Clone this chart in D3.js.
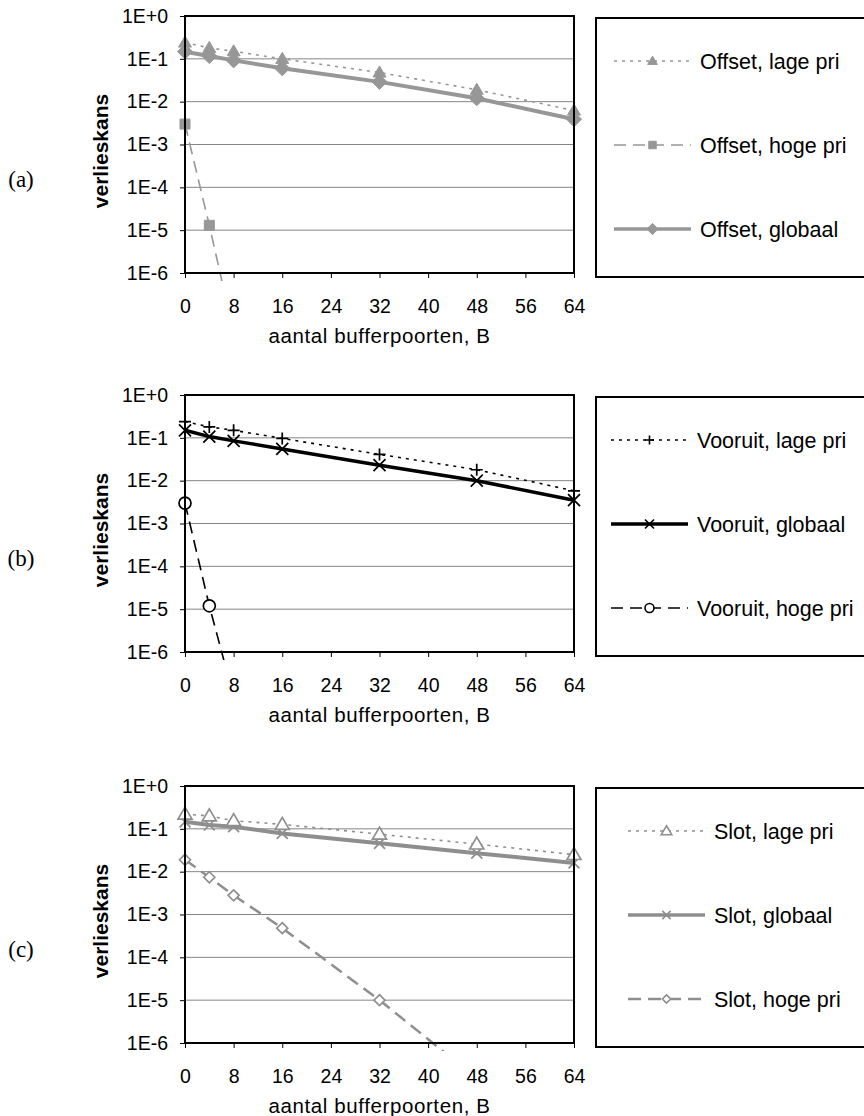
<!DOCTYPE html>
<html>
<head>
<meta charset="utf-8">
<script src="https://cdn.jsdelivr.net/npm/d3@7"></script>
<style>
  body { margin: 0; background: #fff; }
  svg { display: block; }
  text { font-family: 'Liberation Sans', Arial, sans-serif; }
</style>
</head>
<body>
<script>
// waarden (B = aantal bufferpoorten)
var B = [0, 4, 8, 16, 32, 48, 64];
var xTicks = [0, 8, 16, 24, 32, 40, 48, 56, 64];
var yTicks = [1, 1e-1, 1e-2, 1e-3, 1e-4, 1e-5, 1e-6];
var yTickLabels = ["1E+0", "1E-1", "1E-2", "1E-3", "1E-4", "1E-5", "1E-6"];
var panelLabels = ["(a)", "(b)", "(c)"];

var offsetLage    = [0.24, 0.18, 0.15, 0.10, 0.048, 0.019, 0.0062];
var offsetHoge    = [0.003, 1.3e-5, 4e-8, null, null, null, null];
var offsetGlobaal = [0.147, 0.116, 0.092, 0.060, 0.029, 0.012, 0.0039];

var vooruitLage    = [0.24, 0.18, 0.15, 0.097, 0.041, 0.018, 0.0058];
var vooruitGlobaal = [0.15, 0.107, 0.085, 0.055, 0.023, 0.010, 0.0035];
var vooruitHoge    = [0.003, 1.2e-5, 9e-8, null, null, null, null];

var slotLage    = [0.22, 0.20, 0.155, 0.127, 0.075, 0.044, 0.025];
var slotGlobaal = [0.146, 0.123, 0.112, 0.078, 0.046, 0.027, 0.016];
var slotHoge    = [0.019, 0.0074, 0.0028, 4.8e-4, 1.0e-5, 1.5e-7, null];

// markers (size = straal)
var markers = {
  triangle: { draw: function(c, r) { c.moveTo(0, -r); c.lineTo(r, r * 0.7); c.lineTo(-r, r * 0.7); c.closePath(); } },
  square:   { draw: function(c, r) { c.rect(-r, -r, 2 * r, 2 * r); } },
  diamond:  { draw: function(c, r) { c.moveTo(0, -r); c.lineTo(r, 0); c.lineTo(0, r); c.lineTo(-r, 0); c.closePath(); } },
  plus:     { draw: function(c, r) { c.moveTo(-r, 0); c.lineTo(r, 0); c.moveTo(0, -r); c.lineTo(0, r); } },
  cross:    { draw: function(c, r) { c.moveTo(-r, -r); c.lineTo(r, r); c.moveTo(-r, r); c.lineTo(r, -r); } },
  circle:   { draw: function(c, r) { c.moveTo(r, 0); c.arc(0, 0, r, 0, 2 * Math.PI); } }
};

var grey = "#979797", grey2 = "#8e8e8e";

var panels = [
  { top: 16, legendX: 614, series: [
    { name: "Offset, lage pri", values: offsetLage, color: grey, width: 1.6, dash: "3,5", marker: "triangle", r: 6.5, fill: grey },
    { name: "Offset, hoge pri", values: offsetHoge, color: grey, width: 1.6, dash: "12,7", marker: "square", r: 5, fill: grey },
    { name: "Offset, globaal", values: offsetGlobaal, color: grey, width: 4, dash: null, marker: "diamond", r: 7.5, fill: grey }
  ]},
  { top: 395, legendX: 611, series: [
    { name: "Vooruit, lage pri", values: vooruitLage, color: "#000", width: 1.6, dash: "3,5", marker: "plus", r: 6, fill: "none" },
    { name: "Vooruit, globaal", values: vooruitGlobaal, color: "#000", width: 3.5, dash: null, marker: "cross", r: 6, fill: "none" },
    { name: "Vooruit, hoge pri", values: vooruitHoge, color: "#000", width: 1.6, dash: "12,7", marker: "circle", r: 6, fill: "#fff" }
  ]},
  { top: 786, legendX: 628, series: [
    { name: "Slot, lage pri", values: slotLage, color: grey2, width: 1.6, dash: "3,5", marker: "triangle", r: 7, fill: "#fff" },
    { name: "Slot, globaal", values: slotGlobaal, color: grey2, width: 4, dash: null, marker: "cross", r: 5.5, fill: "none" },
    { name: "Slot, hoge pri", values: slotHoge, color: grey2, width: 2.5, dash: "13,7", marker: "diamond", r: 5.5, fill: "#fff" }
  ]}
];

var left = 185, right = 574, plotH = 257;
var legendOffsets = [43, 127, 211];

var svg = d3.select("body").append("svg")
  .attr("width", 864)
  .attr("height", 1116);

var x = d3.scaleLinear().domain([0, 64]).range([left, right]);

function styleAxis(a) {
  a.select(".domain").remove();
  a.attr("font-family", null).attr("font-size", null);
  a.selectAll("text")
    .style("font-family", "'Liberation Sans', Arial, sans-serif")
    .style("font-size", "19.5px")
    .attr("fill", "#000");
  a.selectAll("line").attr("stroke", "#000");
}

panels.forEach(function(p, pi) {
  var top = p.top, bottom = top + plotH;
  var y = d3.scaleLog().domain([1e-6, 1]).range([bottom, top]);
  var g = svg.append("g");

  // rasterlijnen
  g.selectAll("line.grid")
    .data(yTicks.slice(1, -1))
    .enter().append("line")
    .attr("x1", left).attr("x2", right)
    .attr("y1", function(d) { return y(d); })
    .attr("y2", function(d) { return y(d); })
    .attr("stroke", "#858585").attr("stroke-width", 1);

  // assen
  g.append("g")
    .attr("transform", "translate(" + left + ",0)")
    .call(d3.axisLeft(y).tickValues(yTicks).tickSize(5).tickPadding(12)
      .tickFormat(function(d, i) { return yTickLabels[i]; }))
    .call(styleAxis);

  g.append("g")
    .attr("transform", "translate(0," + bottom + ")")
    .call(d3.axisBottom(x).tickValues(xTicks).tickSize(5).tickPadding(21))
    .call(styleAxis);

  g.append("text")
    .attr("x", (left + right) / 2).attr("y", bottom + 70)
    .attr("text-anchor", "middle")
    .style("font-size", "20.5px").style("letter-spacing", "0.6px")
    .text("aantal bufferpoorten, B");

  g.append("text")
    .attr("transform", "translate(108," + (top + 135) + ") rotate(-90)")
    .attr("text-anchor", "middle")
    .style("font-size", "21px").style("font-weight", "bold")
    .text("verlieskans");

  g.append("text")
    .attr("x", 21).attr("y", top + 171)
    .attr("text-anchor", "middle")
    .style("font-family", "'Liberation Serif', 'Times New Roman', serif")
    .style("font-size", "23px")
    .text(panelLabels[pi]);

  // clip voor lijnen die onder 1E-6 doorlopen
  svg.append("clipPath").attr("id", "clip" + pi)
    .append("rect")
    .attr("x", left - 10).attr("y", top - 10)
    .attr("width", right - left + 20).attr("height", plotH + 18);

  var plot = g.append("g").attr("clip-path", "url(#clip" + pi + ")");

  var line = d3.line()
    .defined(function(d) { return d != null; })
    .x(function(d, i) { return x(B[i]); })
    .y(function(d) { return y(d); });

  // plotkader
  g.append("rect")
    .attr("x", left).attr("y", top)
    .attr("width", right - left).attr("height", plotH)
    .attr("fill", "none").attr("stroke", "#000").attr("stroke-width", 2);

  // reeksen: hoge pri eerst, lage pri laatst
  var order = p.series.slice().sort(function(a, b) {
    var rank = function(s) { return s.name.indexOf("hoge") >= 0 ? 0 : (s.name.indexOf("globaal") >= 0 ? 1 : 2); };
    return rank(a) - rank(b);
  });

  order.forEach(function(s) {
    plot.append("path")
      .attr("d", line(s.values))
      .attr("fill", "none")
      .attr("stroke", s.color)
      .attr("stroke-width", s.width)
      .attr("stroke-dasharray", s.dash);

    var pts = s.values.map(function(v, i) { return { b: B[i], v: v }; })
      .filter(function(d) { return d.v != null; });

    plot.selectAll(null)
      .data(pts)
      .enter().append("path")
      .attr("transform", function(d) { return "translate(" + x(d.b) + "," + y(d.v) + ")"; })
      .attr("d", d3.symbol().type(markers[s.marker]).size(s.r))
      .attr("fill", s.fill)
      .attr("stroke", s.color)
      .attr("stroke-width", s.fill === "none" || s.fill === "#fff" ? 1.7 : 1);
  });

  // legenda
  var lg = svg.append("g");
  lg.append("rect")
    .attr("x", 596).attr("y", top + 2)
    .attr("width", 290).attr("height", plotH + 2)
    .attr("fill", "#fff").attr("stroke", "#000").attr("stroke-width", 2);

  p.series.forEach(function(s, i) {
    var ly = top + 2 + legendOffsets[i];
    var x0 = p.legendX, x1 = p.legendX + 77, xm = (x0 + x1) / 2;
    lg.append("line")
      .attr("x1", x0).attr("x2", x1).attr("y1", ly).attr("y2", ly)
      .attr("stroke", s.color)
      .attr("stroke-width", Math.min(s.width, 3.5))
      .attr("stroke-dasharray", s.dash);
    lg.append("path")
      .attr("transform", "translate(" + xm + "," + ly + ")")
      .attr("d", d3.symbol().type(markers[s.marker]).size(s.r * 0.75))
      .attr("fill", s.fill)
      .attr("stroke", s.color)
      .attr("stroke-width", s.fill === "none" || s.fill === "#fff" ? 1.6 : 1);
    lg.append("text")
      .attr("x", x1 + 9).attr("y", ly + 7.5)
      .style("font-size", "21.5px")
      .text(s.name);
  });
});
</script>
</body>
</html>
